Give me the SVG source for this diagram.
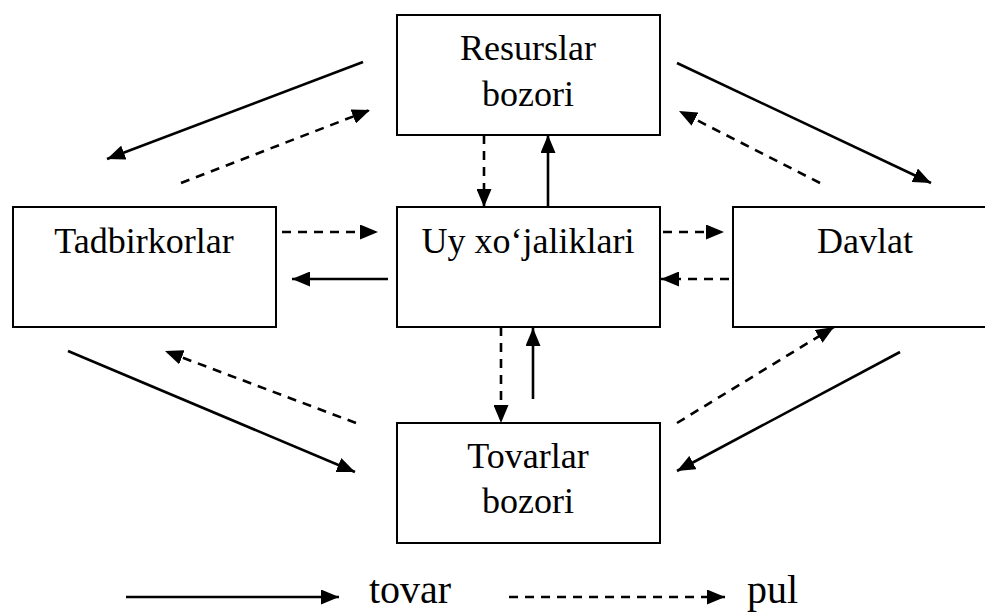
<svg xmlns="http://www.w3.org/2000/svg" width="985" height="612" viewBox="0 0 985 612">
<style>
  .box { fill: #ffffff; stroke: #000000; stroke-width: 2; }
  .solid { fill: none; stroke: #000000; stroke-width: 2.6; marker-end: url(#ah); }
  .dash { fill: none; stroke: #000000; stroke-width: 2.6; stroke-dasharray: 9 7; marker-end: url(#ah); }
</style>
<defs>
  <marker id="ah" markerUnits="userSpaceOnUse" markerWidth="18" markerHeight="15" refX="18" refY="7.5" orient="auto">
    <path d="M0,0 L18,7.5 L0,15 z" fill="#000000"/>
  </marker>
</defs>
<rect width="985" height="612" fill="#ffffff"/>
<g id="connectors">
  <line class="solid" x1="363" y1="62" x2="107" y2="159"/>
  <line class="dash" x1="181" y1="183" x2="370" y2="110"/>
  <line class="solid" x1="677" y1="63" x2="931" y2="183"/>
  <line class="dash" x1="820" y1="183" x2="679" y2="111"/>
  <line class="dash" x1="484" y1="135" x2="484" y2="207"/>
  <line class="solid" x1="548" y1="207" x2="548" y2="135"/>
  <line class="dash" x1="282" y1="232" x2="378" y2="232"/>
  <line class="solid" x1="388" y1="279" x2="292" y2="279"/>
  <line class="dash" x1="663" y1="232" x2="724" y2="232"/>
  <line class="dash" x1="729" y1="279" x2="661" y2="279"/>
  <line class="dash" x1="501" y1="327" x2="501" y2="423"/>
  <line class="solid" x1="533" y1="399" x2="533" y2="328"/>
  <line class="solid" x1="68" y1="351" x2="355" y2="472"/>
  <line class="dash" x1="356" y1="423" x2="165" y2="351"/>
  <line class="solid" x1="900" y1="352" x2="677" y2="471"/>
  <line class="dash" x1="677" y1="423" x2="834" y2="327"/>
</g>
<g font-family="Liberation Serif, serif" font-size="36" fill="#000000" text-anchor="middle">
<g id="resurslar">
  <rect class="box" x="397" y="15" width="263" height="120"/>
  <text x="528" y="60">Resurslar</text>
  <text x="528" y="106">bozori</text>
</g>
<g id="tadbirkorlar">
  <rect class="box" x="13" y="207" width="263" height="120"/>
  <text x="144" y="253">Tadbirkorlar</text>
</g>
<g id="uy">
  <rect class="box" x="397" y="207" width="263" height="120"/>
  <text x="528" y="253">Uy xo‘jaliklari</text>
</g>
<g id="davlat">
  <rect class="box" x="733" y="207" width="264" height="120"/>
  <text x="865" y="253">Davlat</text>
</g>
<g id="tovarlar">
  <rect class="box" x="397" y="423" width="263" height="120"/>
  <text x="528" y="468">Tovarlar</text>
  <text x="528" y="513">bozori</text>
</g>
<g id="legend" font-size="40" text-anchor="start">
  <line class="solid" x1="126" y1="597" x2="339" y2="597"/>
  <text x="369" y="603">tovar</text>
  <line class="dash" x1="509" y1="597" x2="725" y2="597"/>
  <text x="747" y="603">pul</text>
</g>
</g>
</svg>
